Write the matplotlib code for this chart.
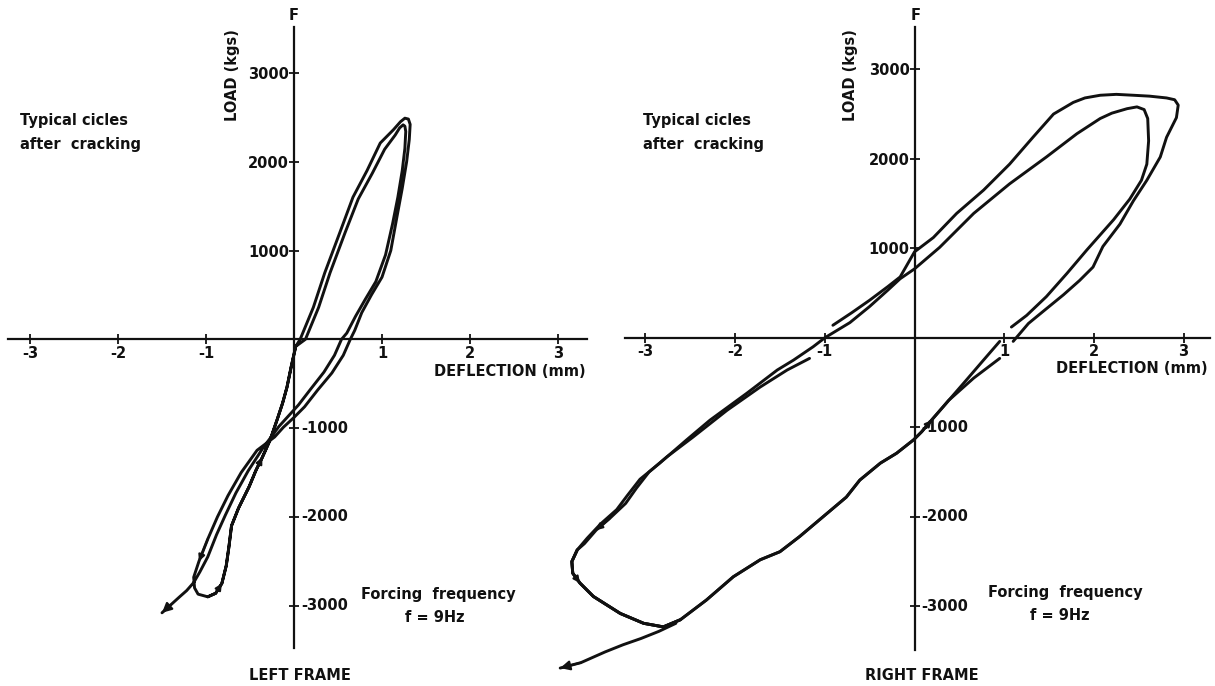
import numpy as np
import matplotlib.pyplot as plt
import matplotlib.transforms as mtransforms

plt.rcParams['font.family'] = ['DejaVu Sans']
plt.rcParams['font.weight'] = 'bold'
plt.rcParams['axes.unicode_minus'] = False

W, H = 1215, 686
INK = '#111111'
FS = 10.5

# axis ticks shared by both frames
defl_ticks = [-3, -2, -1, 1, 2, 3]
defl_labels = ['-3', '-2', '-1', '1', '2', '3']
load_ticks = [-3000, -2000, -1000, 1000, 2000, 3000]

# ---- LEFT FRAME (deflection mm, load kgs) ----
left_rise_x = [-0.98, -0.89, -0.82, -0.77, -0.74, -0.71, -0.63, -0.51, -0.43, -0.36,
               -0.27, -0.19, -0.13, -0.08, -0.03, 0.02]
left_rise_y = [-2900, -2860, -2750, -2550, -2340, -2100, -1900, -1660, -1470, -1330,
               -1130, -900, -720, -540, -300, -80]

left_up_outer_x = [0.07, 0.22, 0.35, 0.52, 0.67, 0.83, 0.98, 1.13, 1.21, 1.26]
left_up_outer_y = [0, 360, 750, 1200, 1600, 1900, 2210, 2360, 2450, 2490]

left_down_outer_x = [1.30, 1.32, 1.31, 1.28, 1.23, 1.17, 1.10, 1.00, 0.88, 0.77, 0.69, 0.64,
                     0.56, 0.43, 0.27, 0.12, 0.00, -0.12, -0.22, -0.42, -0.60, -0.75,
                     -0.87, -0.98, -1.08, -1.14, -1.13, -1.09]
left_down_outer_y = [2480, 2420, 2250, 2000, 1700, 1380, 1000, 700, 500, 300, 100, 0,
                     -180, -380, -570, -760, -880, -990, -1100, -1250, -1500, -1760,
                     -2000, -2250, -2500, -2680, -2800, -2870]

left_up_inner_x = [0.13, 0.28, 0.41, 0.58, 0.73, 0.89, 1.03, 1.15, 1.20, 1.24]
left_up_inner_y = [0, 360, 750, 1200, 1580, 1870, 2140, 2300, 2380, 2415]

left_down_inner_x = [1.26, 1.27, 1.26, 1.23, 1.18, 1.12, 1.04, 0.93, 0.81, 0.70, 0.60, 0.54,
                     0.46, 0.34, 0.19, 0.05, -0.06, -0.17, -0.26, -0.35, -0.52, -0.66,
                     -0.78, -0.88, -0.98, -1.07, -1.14]
left_down_inner_y = [2400, 2340, 2150, 1900, 1600, 1300, 950, 650, 450, 260, 70, 0,
                     -180, -370, -560, -740, -860, -980, -1100, -1220, -1480, -1730,
                     -1980, -2200, -2450, -2620, -2740]

left_tail_x = [-1.14, -1.22, -1.30, -1.40, -1.50]
left_tail_y = [-2740, -2830, -2900, -2990, -3080]

# ---- RIGHT FRAME ----
right_curl_x = [-3.76, -3.82, -3.81, -3.73, -3.58, -3.28, -3.02, -2.80, -2.61]
right_curl_y = [-2370, -2500, -2630, -2740, -2890, -3080, -3190, -3230, -3150]

right_bottom_x = [-2.32, -2.02, -1.72, -1.50, -1.28, -1.02, -0.76, -0.61, -0.38, -0.20,
                  -0.01, 0.08, 0.19, 0.32]
right_bottom_y = [-2930, -2670, -2480, -2390, -2220, -2000, -1780, -1590, -1400, -1290,
                  -1140, -1050, -920, -770]

right_line_a_x = [0.45, 0.58, 0.76, 0.95]
right_line_a_y = [-620, -470, -260, -40]

right_line_b_x = [0.38, 0.66, 0.95]
right_line_b_y = [-700, -450, -230]

right_outer_x = [1.10, 1.27, 1.44, 1.66, 1.84, 1.99, 2.10, 2.29, 2.44, 2.59, 2.74, 2.81,
                 2.92, 2.94, 2.90, 2.81, 2.62, 2.44, 2.25, 2.07, 1.90, 1.77, 1.55, 1.32,
                 1.06, 0.77, 0.47, 0.21, 0.00, -0.16, -0.30, -0.50, -0.70, -0.91]
right_outer_y = [-40, 160, 300, 480, 640, 790, 1020, 1270, 1530, 1760, 2020, 2240,
                 2460, 2600, 2660, 2680, 2700, 2710, 2720, 2710, 2680, 2630, 2500, 2240,
                 1940, 1650, 1390, 1120, 960, 680, 570, 420, 280, 140]

right_lower_x = [-1.17, -1.42, -1.72, -2.09, -2.47, -2.76, -2.96, -3.10, -3.22, -3.40,
                 -3.55, -3.68]
right_lower_y = [-230, -360, -550, -810, -1110, -1330, -1500, -1680, -1850, -2020,
                 -2150, -2300]

right_inner_x = [1.08, 1.25, 1.47, 1.70, 1.92, 2.22, 2.40, 2.53, 2.59, 2.61, 2.60, 2.56,
                 2.48, 2.37, 2.20, 2.07, 1.81, 1.47, 1.06, 0.66, 0.28, 0.00, -0.16, -0.30,
                 -0.50, -0.72, -1.00, -1.13]
right_inner_y = [120, 250, 460, 720, 980, 1320, 1550, 1760, 1940, 2200, 2450, 2550,
                 2580, 2560, 2510, 2450, 2280, 2020, 1720, 1390, 1010, 770, 660, 530,
                 350, 170, 0, -100]

right_upper_below_x = [-1.35, -1.53, -1.87, -2.28, -2.54, -2.84, -3.06, -3.20, -3.32,
                       -3.50, -3.65]
right_upper_below_y = [-250, -360, -620, -920, -1140, -1400, -1580, -1760, -1920,
                       -2080, -2240]

right_tail_x = [-2.66, -2.85, -3.05, -3.25, -3.45, -3.72, -3.95]
right_tail_y = [-3190, -3280, -3360, -3430, -3510, -3630, -3690]


def chain(*parts):
    xs = np.concatenate([np.asarray(p[0], float) for p in parts])
    ys = np.concatenate([np.asarray(p[1], float) for p in parts])
    return xs, ys


def frame_axes(fig, origin, scale, xlim, ylim):
    # origin in pixels from top-left, scale in pixels per unit
    ox, oy = origin
    sx, sy = scale
    rect = [(ox + sx * xlim[0]) / W,
            (H - (oy - sy * ylim[0])) / H,
            sx * (xlim[1] - xlim[0]) / W,
            sy * (ylim[1] - ylim[0]) / H]
    ax = fig.add_axes(rect)
    ax.set_xlim(xlim)
    ax.set_ylim(ylim)
    ax.patch.set_visible(False)
    return ax


def style_axes(ax, xspan, yspan):
    ax.spines['top'].set_visible(False)
    ax.spines['right'].set_visible(False)
    ax.spines['left'].set_position('zero')
    ax.spines['bottom'].set_position('zero')
    ax.spines['left'].set_bounds(*yspan)
    ax.spines['bottom'].set_bounds(*xspan)
    for s in ('left', 'bottom'):
        ax.spines[s].set_linewidth(1.6)
        ax.spines[s].set_color(INK)
    ax.set_xticks(defl_ticks)
    ax.set_xticklabels(defl_labels)
    ax.set_yticks(load_ticks)
    ax.set_yticklabels([str(v) if v > 0 else '' for v in load_ticks])
    ax.tick_params(direction='inout', length=7, width=1.3, colors=INK, labelsize=FS)
    ax.tick_params(axis='y', pad=0)
    ax.tick_params(axis='x', pad=1)
    off = mtransforms.offset_copy(ax.transData, fig=ax.figure, x=7, y=0, units='dots')
    for v in load_ticks:
        if v < 0:
            ax.text(0, v, str(v), transform=off, ha='left', va='center',
                    fontsize=FS, color=INK)


def trace(ax, xs, ys):
    ax.plot(xs, ys, color=INK, lw=2.1, solid_joinstyle='round',
            solid_capstyle='round', clip_on=False)


def arrow(ax, xs, ys, i, size=9):
    ax.annotate('', xy=(xs[i + 1], ys[i + 1]), xytext=(xs[i], ys[i]),
                arrowprops=dict(arrowstyle='-|>', color=INK, lw=1.6,
                                mutation_scale=size, shrinkA=0, shrinkB=0))


def ftext(fig, px, py, s, **kw):
    kw.setdefault('fontsize', FS)
    kw.setdefault('color', INK)
    fig.text(px / W, 1 - py / H, s, **kw)


fig = plt.figure(figsize=(W / 100, H / 100), dpi=100)

# left frame
axl = frame_axes(fig, (294, 339.3), (88, 0.0888), (-3.25, 3.33), (-3480, 3515))
style_axes(axl, (-3.25, 3.33), (-3480, 3515))
lx, ly = chain((left_rise_x, left_rise_y), (left_up_outer_x, left_up_outer_y),
               (left_down_outer_x, left_down_outer_y), (left_rise_x, left_rise_y),
               (left_up_inner_x, left_up_inner_y), (left_down_inner_x, left_down_inner_y),
               (left_tail_x, left_tail_y))
trace(axl, lx, ly)
arrow(axl, left_rise_x, left_rise_y, 8)
arrow(axl, left_rise_x, left_rise_y, 1)
arrow(axl, left_down_outer_x, left_down_outer_y, 23)
arrow(axl, left_tail_x, left_tail_y, len(left_tail_x) - 2, size=14)

# right frame
axr = frame_axes(fig, (914.5, 337.8), (89.7, 0.0895), (-4.0, 3.30), (-3750, 3480))
style_axes(axr, (-3.227, 3.294), (-3488, 3476))
segs = [chain((right_curl_x, right_curl_y), (right_bottom_x, right_bottom_y),
              (right_line_a_x, right_line_a_y)),
        chain((right_outer_x, right_outer_y)),
        chain((right_lower_x, right_lower_y), (right_curl_x, right_curl_y),
              (right_bottom_x, right_bottom_y), (right_line_b_x, right_line_b_y)),
        chain((right_inner_x, right_inner_y), (right_upper_below_x, right_upper_below_y),
              (right_curl_x, right_curl_y)),
        chain((right_tail_x, right_tail_y))]
for sx_, sy_ in segs:
    trace(axr, sx_, sy_)
arrow(axr, right_curl_x, right_curl_y, 2)
arrow(axr, right_bottom_x, right_bottom_y, 11)
arrow(axr, right_lower_x, right_lower_y, 9)
arrow(axr, right_tail_x, right_tail_y, len(right_tail_x) - 2, size=14)

# texts
for x0, lx0, tx, dx_end, dy, fx, fy, ffx, name, ny in [
        (294, 233, 20, 586, 371, 438, 594, 435, 'LEFT FRAME', 676),
        (916, 850, 643, 1208, 369, 1065, 593, 1060, 'RIGHT FRAME', 675)]:
    ftext(fig, x0, 16, 'F', ha='center', va='center')
    ftext(fig, lx0, 75, 'LOAD (kgs)', rotation=90, ha='center', va='center')
    ftext(fig, tx, 121, 'Typical cicles', ha='left', va='center')
    ftext(fig, tx, 145, 'after  cracking', ha='left', va='center')
    ftext(fig, dx_end, dy, 'DEFLECTION (mm)', ha='right', va='center')
    ftext(fig, fx, fy, 'Forcing  frequency', ha='center', va='center')
    ftext(fig, ffx, fy + 23, 'f = 9Hz', ha='center', va='center')
    ftext(fig, x0 + 6, ny, name, ha='center', va='center')

fig.savefig('out.png', dpi=100)
